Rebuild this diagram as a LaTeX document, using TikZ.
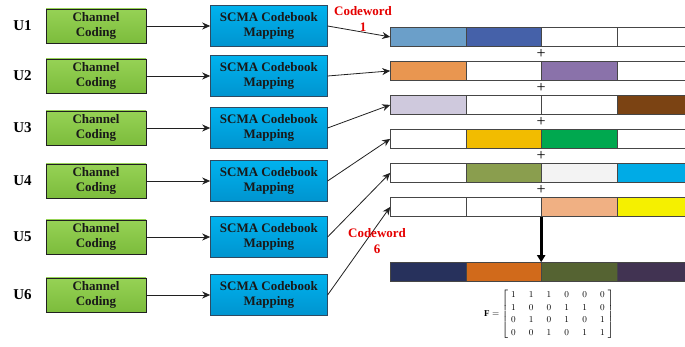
\documentclass[tikz,border=0pt]{standalone}
\usepackage{fontspec}
\setmainfont{Liberation Serif}
\usepackage{xcolor}
\usepackage{amsmath}
\usepackage{tikz}
\usetikzlibrary{arrows.meta, matrix, positioning, calc}

\definecolor{codetop}{HTML}{96D255}
\definecolor{codebot}{HTML}{7CBC3C}
\definecolor{maptop}{HTML}{00B2EE}
\definecolor{mapbot}{HTML}{0094CF}
\definecolor{mapedge}{HTML}{2E4A62}
\definecolor{cwsteel}{HTML}{6B9FC9}
\definecolor{cwroyal}{HTML}{4561A9}
\definecolor{cworange}{HTML}{E99650}
\definecolor{cwviolet}{HTML}{8A72AA}
\definecolor{cwlilac}{HTML}{CFC9DD}
\definecolor{cwbrown}{HTML}{7B4313}
\definecolor{cwgold}{HTML}{F2BC00}
\definecolor{cwgreen}{HTML}{00A84F}
\definecolor{cwolive}{HTML}{8A9E4E}
\definecolor{cwpale}{HTML}{F3F3F3}
\definecolor{cwcyan}{HTML}{00ABE6}
\definecolor{cwpeach}{HTML}{F0B083}
\definecolor{cwyellow}{HTML}{F5F000}
\definecolor{sumnavy}{HTML}{27315C}
\definecolor{sumorange}{HTML}{D16A1B}
\definecolor{sumolive}{HTML}{556332}
\definecolor{sumplum}{HTML}{413352}

\begin{document}
\begin{tikzpicture}[
    x=1pt, y=-1pt,
    >={Stealth[length=8pt, width=7pt]},
    every node/.style={align=center, font=\bfseries\fontsize{13}{15}\selectfont}
]

\tikzset{
    userlabel/.style={inner sep=0pt, font=\bfseries\fontsize{15}{17}\selectfont},
    codingbox/.style={draw=gray!25!black, top color=codetop, bottom color=codebot, minimum width=100pt, minimum height=34pt, inner sep=0pt, text=black!90},
    mappingbox/.style={draw=mapedge, top color=maptop, bottom color=mapbot, minimum width=117pt, minimum height=41pt, inner sep=0pt, text=black!90},
    cwcell/.style={draw=gray!55!black, fill=#1, minimum width=75.5pt, minimum height=19pt, inner sep=0pt},
    cwcell/.default=white,
    cwlabel/.style={text=red!90!black, font=\bfseries\fontsize{13}{16}\selectfont},
    plussign/.style={inner sep=0pt, font=\fontsize{16}{16}\selectfont},
    linkarrow/.style={->, draw=gray!25!black, line width=0.8pt},
    sumarrow/.style={-{Triangle[length=7pt, width=8pt]}, line width=2.6pt}
}

\useasboundingbox (0,0) rectangle (685,347);

% user branches
\node [codingbox] (cc1) at (96,26) {Channel\\Coding};
\node [codingbox] (cc2) at (96,76) {Channel\\Coding};
\node [codingbox] (cc3) at (96,128) {Channel\\Coding};
\node [codingbox] (cc4) at (96,181) {Channel\\Coding};
\node [codingbox] (cc5) at (96,237) {Channel\\Coding};
\node [codingbox] (cc6) at (96,295) {Channel\\Coding};

\node [userlabel] (u1) [left=14pt of cc1] {U1};
\node [userlabel] (u2) [left=14pt of cc2] {U2};
\node [userlabel] (u3) [left=14pt of cc3] {U3};
\node [userlabel] (u4) [left=14pt of cc4] {U4};
\node [userlabel] (u5) [left=14pt of cc5] {U5};
\node [userlabel] (u6) [left=14pt of cc6] {U6};

\node [mappingbox] (map1) [right=64pt of cc1] {SCMA Codebook\\Mapping};
\node [mappingbox] (map2) [right=64pt of cc2] {SCMA Codebook\\Mapping};
\node [mappingbox] (map3) [right=64pt of cc3] {SCMA Codebook\\Mapping};
\node [mappingbox] (map4) [right=64pt of cc4] {SCMA Codebook\\Mapping};
\node [mappingbox] (map5) [right=64pt of cc5] {SCMA Codebook\\Mapping};
\node [mappingbox] (map6) [right=64pt of cc6] {SCMA Codebook\\Mapping};

\draw [linkarrow] (cc1) -- (map1);
\draw [linkarrow] (cc2) -- (map2);
\draw [linkarrow] (cc3) -- (map3);
\draw [linkarrow] (cc4) -- (map4);
\draw [linkarrow] (cc5) -- (map5);
\draw [linkarrow] (cc6) -- (map6);

% codewords
\matrix (cw1) [matrix of nodes, nodes in empty cells, column sep=-\pgflinewidth, inner sep=0pt, anchor=north west] at (390,27) {
    |[cwcell=cwsteel]| & |[cwcell=cwroyal]| & |[cwcell]| & |[cwcell]| \\
};
\matrix (cw2) [matrix of nodes, nodes in empty cells, column sep=-\pgflinewidth, inner sep=0pt, anchor=north west] at (390,61) {
    |[cwcell=cworange]| & |[cwcell]| & |[cwcell=cwviolet]| & |[cwcell]| \\
};
\matrix (cw3) [matrix of nodes, nodes in empty cells, column sep=-\pgflinewidth, inner sep=0pt, anchor=north west] at (390,95) {
    |[cwcell=cwlilac]| & |[cwcell]| & |[cwcell]| & |[cwcell=cwbrown]| \\
};
\matrix (cw4) [matrix of nodes, nodes in empty cells, column sep=-\pgflinewidth, inner sep=0pt, anchor=north west] at (390,129) {
    |[cwcell]| & |[cwcell=cwgold]| & |[cwcell=cwgreen]| & |[cwcell]| \\
};
\matrix (cw5) [matrix of nodes, nodes in empty cells, column sep=-\pgflinewidth, inner sep=0pt, anchor=north west] at (390,163) {
    |[cwcell]| & |[cwcell=cwolive]| & |[cwcell=cwpale]| & |[cwcell=cwcyan]| \\
};
\matrix (cw6) [matrix of nodes, nodes in empty cells, column sep=-\pgflinewidth, inner sep=0pt, anchor=north west] at (390,197) {
    |[cwcell]| & |[cwcell]| & |[cwcell=cwpeach]| & |[cwcell=cwyellow]| \\
};
\matrix (cwsum) [matrix of nodes, nodes in empty cells, column sep=-\pgflinewidth, inner sep=0pt, anchor=north west] at (390,262) {
    |[cwcell=sumnavy]| & |[cwcell=sumorange]| & |[cwcell=sumolive]| & |[cwcell=sumplum]| \\
};

\node [plussign] (pl1) at ($(cw1-1-3.south west)!0.5!(cw2-1-3.north west)$) {+};
\node [plussign] (pl2) at ($(cw2-1-3.south west)!0.5!(cw3-1-3.north west)$) {+};
\node [plussign] (pl3) at ($(cw3-1-3.south west)!0.5!(cw4-1-3.north west)$) {+};
\node [plussign] (pl4) at ($(cw4-1-3.south west)!0.5!(cw5-1-3.north west)$) {+};
\node [plussign] (pl5) at ($(cw5-1-3.south west)!0.5!(cw6-1-3.north west)$) {+};

\draw [linkarrow] (map1.east) -- (cw1-1-1.west);
\draw [linkarrow] (map2.east) -- (cw2-1-1.west);
\draw [linkarrow] (map3.east) -- (cw3-1-1.west);
\draw [linkarrow] (map4.east) -- (cw4-1-1.west);
\draw [linkarrow] (map5.east) -- (cw5-1-1.west);
\draw [linkarrow] (map6.east) -- (cw6-1-1.west);

\node [cwlabel] (cwname1) at (363,19) {Codeword\\1};
\node [cwlabel] (cwname6) at (377,241) {Codeword\\6};

\draw [sumarrow] (cw6-1-3.south west) -- (cwsum-1-3.north west);

% factor graph matrix
\node (fmat) at (549,314) {\fontsize{9}{12.5}\selectfont\setlength{\arraycolsep}{6.6pt}%
    $\mathbf{F}=\left[\begin{array}{@{\hspace{3pt}}cccccc@{\hspace{3pt}}}
    1 & 1 & 1 & 0 & 0 & 0\\
    1 & 0 & 0 & 1 & 1 & 0\\
    0 & 1 & 0 & 1 & 0 & 1\\
    0 & 0 & 1 & 0 & 1 & 1
    \end{array}\right]$};

\end{tikzpicture}
\end{document}
